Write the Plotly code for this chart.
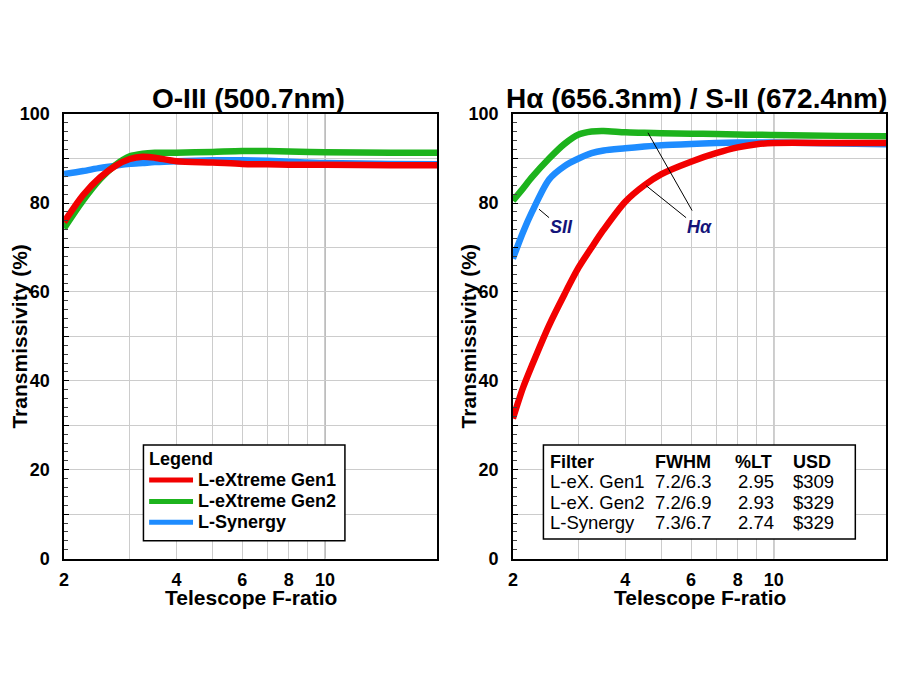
import numpy as np
import plotly.graph_objects as go

# ---------------- data ----------------
fratio = [2, 2.25, 2.5, 2.75, 3, 3.25, 3.5, 4, 5, 6, 7, 8, 10, 15, 20]

# O-III (500.7nm)
oiii_gen1 = [75.7, 81.8, 85.8, 88.4, 89.9, 90.4, 90.2, 89.4, 89.1, 88.8, 88.7, 88.6, 88.6, 88.5, 88.5]
oiii_gen2 = [74.3, 80.6, 85.4, 88.6, 90.5, 91.1, 91.3, 91.3, 91.5, 91.7, 91.7, 91.6, 91.4, 91.3, 91.3]
oiii_syn = [86.5, 87.2, 87.9, 88.4, 88.8, 89.0, 89.2, 89.4, 89.6, 89.6, 89.5, 89.3, 89.0, 88.8, 88.7]

# H-alpha / S-II
fratio_h = [2, 2.13, 2.25, 2.5, 2.75, 3, 3.25, 3.5, 4, 4.5, 5, 6, 7, 8, 9, 10, 15, 20]
ha_gen1 = [31.5, 38.5, 43.5, 52.5, 59.5, 65.5, 70.0, 74.0, 80.3, 84.0, 86.5, 89.3, 91.2, 92.5, 93.2, 93.5, 93.5, 93.5]
ha_gen2 = [80.5, 83.3, 85.8, 90.0, 93.3, 95.4, 96.1, 96.2, 95.9, 95.8, 95.7, 95.6, 95.5, 95.4, 95.35, 95.3, 95.1, 95.0]
ha_syn = [67.5, 73.5, 78.0, 85.3, 88.3, 90.0, 91.2, 91.8, 92.3, 92.7, 93.0, 93.3, 93.5, 93.6, 93.6, 93.6, 93.4, 93.2]

series_names = ["L-eXtreme Gen1", "L-eXtreme Gen2", "L-Synergy"]
series_colors = ["#f20000", "#1db31d", "#1e8cff"]

x_tickvals = [2, 3, 4, 5, 6, 7, 8, 9, 10, 20]
x_ticktext = ["2", "", "4", "", "6", "", "8", "", "10", ""]
y_tickvals = [0, 10, 20, 30, 40, 50, 60, 70, 80, 90, 100]
y_ticktext = ["0", "", "20", "", "40", "", "60", "", "80", "", "100"]

table_header = ["Filter", "FWHM", "%LT", "USD"]
table_filter = ["L-eX. Gen1", "L-eX. Gen2", "L-Synergy"]
table_fwhm = ["7.2/6.3", "7.2/6.9", "7.3/6.7"]
table_lt = ["2.95", "2.93", "2.74"]
table_usd = ["$309", "$329", "$329"]

# leader lines (data coords, right panel)
sii_leader_x = [2.35, 2.50]
sii_leader_y = [78.6, 76.7]
ha_leader_g_x = [4.60, 6.04]
ha_leader_g_y = [95.8, 78.3]
ha_leader_r_x = [4.55, 5.82]
ha_leader_r_y = [83.9, 76.7]

# ---------------- layout helpers ----------------
W, H = 900, 695
FONT = "Liberation Sans, Arial, Helvetica, sans-serif"


def fx(p):
    # horizontal pixel position -> paper fraction, with a small correction
    return ((p - 3.5) / 0.997) / W


def fy(p):
    # vertical pixel position (from top) -> paper fraction, with a small correction
    return 1 - ((p - 8.2) / 0.975) / H


fig = go.Figure()

# left panel traces (blue, green, red so red is on top)
for name, color, ys in [
    (series_names[2], series_colors[2], oiii_syn),
    (series_names[1], series_colors[1], oiii_gen2),
    (series_names[0], series_colors[0], oiii_gen1),
]:
    fig.add_trace(go.Scatter(x=fratio, y=ys, mode="lines", name=name, showlegend=False,
                             line=dict(color=color, width=6.5, shape="spline", smoothing=0.8),
                             xaxis="x", yaxis="y", hoverinfo="skip"))

for name, color, ys in [
    (series_names[2], series_colors[2], ha_syn),
    (series_names[1], series_colors[1], ha_gen2),
    (series_names[0], series_colors[0], ha_gen1),
]:
    fig.add_trace(go.Scatter(x=fratio_h, y=ys, mode="lines", name=name, showlegend=False,
                             line=dict(color=color, width=6.5, shape="spline", smoothing=0.8),
                             xaxis="x2", yaxis="y2", hoverinfo="skip"))

for lx, ly in [(sii_leader_x, sii_leader_y), (ha_leader_g_x, ha_leader_g_y), (ha_leader_r_x, ha_leader_r_y)]:
    fig.add_trace(go.Scatter(x=lx, y=ly, mode="lines", showlegend=False,
                             line=dict(color="black", width=1), xaxis="x2", yaxis="y2", hoverinfo="skip"))

ydom = [fy(559), fy(112.7)]
xdom1 = [fx(62.7), fx(437)]
xdom2 = [fx(512.7), fx(887)]

tickfont = dict(family=FONT, size=18, color="black", weight="bold")


def xaxis(domain, anchor):
    return dict(domain=domain, anchor=anchor, type="log", range=[np.log10(2), np.log10(20)],
                tickvals=x_tickvals, ticktext=x_ticktext, ticks="", showgrid=True,
                gridcolor="#cccccc", gridwidth=1, showline=True, linecolor="black", linewidth=1.5,
                mirror=True, tickfont=tickfont, ticklabelstandoff=4, zeroline=False)


def yaxis(anchor):
    return dict(domain=ydom, anchor=anchor, range=[0, 100], tickvals=y_tickvals, ticktext=y_ticktext,
                ticks="inside", ticklen=5, tickcolor="black", showgrid=True, gridcolor="#cccccc",
                gridwidth=1, showline=True, linecolor="black", linewidth=1.5, mirror=True,
                tickfont=tickfont, ticklabelstandoff=9, zeroline=False,
                minor=dict(dtick=2, ticks="inside", ticklen=4, tickcolor="#444444", showgrid=False))


def paper_text(text, x, y, size, xanchor="center", bold=False, angle=0, color="black"):
    return dict(text=f"<b>{text}</b>" if bold else text, x=fx(x), y=fy(y), xref="paper", yref="paper",
                xanchor=xanchor, yanchor="middle", showarrow=False, textangle=angle,
                font=dict(family=FONT, size=size, color=color))


annotations = []
# titles
annotations.append(paper_text("O-III (500.7nm)", (62.7 + 437) / 2 - 2, 97, 28, bold=True))
annotations.append(paper_text("Hα (656.3nm) / S-II (672.4nm)", (512.7 + 887) / 2 - 3, 97, 28, bold=True))
for left, right in ((62.7, 437), (512.7, 887)):
    annotations.append(paper_text("Telescope F-ratio", (left + right) / 2, 598, 21, bold=True))
    annotations.append(paper_text("Transmissivity (%)", left - 45, (112.7 + 559) / 2, 21, bold=True, angle=-90))

# curve labels
annotations.append(dict(text="<b><i>SII</i></b>", x=np.log10(2.70), y=74.5, xref="x2", yref="y2",
                        xanchor="center", yanchor="middle",
                        showarrow=False, font=dict(family=FONT, size=18, color="#14147a")))
annotations.append(dict(text="<b><i>Hα</i></b>", x=np.log10(6.32), y=74.5, xref="x2", yref="y2",
                        xanchor="center", yanchor="middle",
                        showarrow=False, font=dict(family=FONT, size=18, color="#14147a")))

shapes = []

# legend (left panel)
leg_box = (142.3, 445, 344.3, 541)
shapes.append(dict(type="rect", xref="paper", yref="paper", x0=fx(leg_box[0]), x1=fx(leg_box[2]),
                   y0=fy(leg_box[3]), y1=fy(leg_box[1]), line=dict(color="black", width=1.5),
                   fillcolor="white", layer="above"))
annotations.append(paper_text("Legend", 146, 459, 18, xanchor="left", bold=True))
leg_rows = [480, 501.5, 522.5]
for name, color, ry in zip(series_names, series_colors, leg_rows):
    shapes.append(dict(type="line", xref="paper", yref="paper", x0=fx(148), x1=fx(192), y0=fy(ry), y1=fy(ry),
                       line=dict(color=color, width=5), layer="above"))
    annotations.append(paper_text(name, 195, ry, 18, xanchor="left", bold=True))

# table (right panel)
shapes.append(dict(type="rect", xref="paper", yref="paper", x0=fx(543.3), x1=fx(856), y0=fy(539.3), y1=fy(445),
                   line=dict(color="black", width=1.5), fillcolor="white", layer="above"))
col_x = [548, 653, 776, 792]
col_anchor = ["left", "left", "right", "left"]
row_y = [462, 482, 502.5, 523]
for j, h in enumerate(table_header):
    hx = col_x[j] if j != 2 else 774
    annotations.append(paper_text(h, hx, row_y[0], 18, xanchor=col_anchor[j], bold=True))
for i in range(len(table_filter)):
    for j, val in enumerate([table_filter[i], table_fwhm[i], table_lt[i], table_usd[i]]):
        annotations.append(paper_text(val, col_x[j], row_y[i + 1], 18.5, xanchor=col_anchor[j]))

# darker reference line at f/10
shapes.append(dict(type="line", xref="x", yref="y domain", x0=10, x1=10, y0=0, y1=1,
                   line=dict(color="#777777", width=1), layer="below"))
shapes.append(dict(type="line", xref="x2", yref="y2 domain", x0=10, x1=10, y0=0, y1=1,
                   line=dict(color="#777777", width=1), layer="below"))

fig.update_layout(
    width=W, height=H, margin=dict(l=0, r=0, t=0, b=0),
    paper_bgcolor="white", plot_bgcolor="white",
    xaxis=xaxis(xdom1, "y"), yaxis=yaxis("x"),
    xaxis2=xaxis(xdom2, "y2"), yaxis2=yaxis("x2"),
    annotations=annotations, shapes=shapes,
    showlegend=False,
)

fig.write_html("out.html")
